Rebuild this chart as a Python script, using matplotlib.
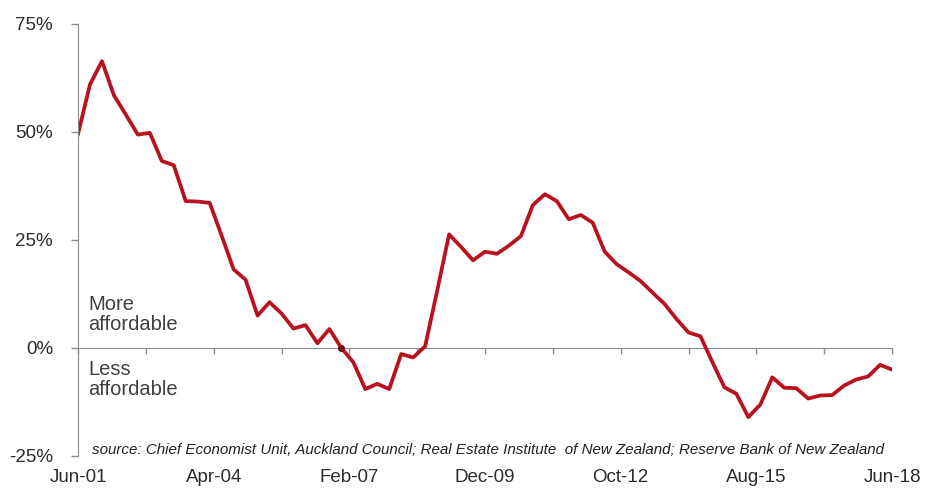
#!/usr/bin/python
# Auckland housing affordability index, quarterly from Jun-01 to Jun-18.
import numpy as np
import matplotlib
matplotlib.use("Agg")
import matplotlib.pyplot as plt

# data (percent, quarterly)
affordability = [49.5, 61.0, 66.4, 58.5, 54.0, 49.4, 49.8, 43.3, 42.3, 34.0,
                 33.9, 33.6, 26.0, 18.2, 15.8, 7.5, 10.6, 8.0, 4.5, 5.3,
                 1.1, 4.4, 0.0, -3.3, -9.5, -8.3, -9.5, -1.4, -2.2, 0.4,
                 13.2, 26.3, 23.4, 20.3, 22.3, 21.8, 23.7, 25.9, 33.1, 35.6,
                 34.0, 29.8, 30.8, 29.0, 22.3, 19.4, 17.5, 15.5, 12.8, 10.2,
                 6.7, 3.6, 2.7, -3.3, -9.1, -10.6, -16.0, -13.1, -6.8, -9.2,
                 -9.3, -11.7, -11.0, -10.9, -8.7, -7.3, -6.6, -3.9, -5.0]
months = np.arange(len(affordability)) * 3          # months since Jun-01
tick_labels = ["Jun-01", "Apr-04", "Feb-07", "Dec-09", "Oct-12", "Aug-15", "Jun-18"]
label_months = np.arange(len(tick_labels)) * 34
minor_months = np.arange(0, 205, 17)
y_ticks = [-25, 0, 25, 50, 75]

plt.rcParams["font.family"] = ["Liberation Sans", "DejaVu Sans"]
axis_grey = "#8c8c8c"
text_grey = "#2b2b2b"

fig = plt.figure(figsize=(9.25, 4.9), dpi=100)
ax = fig.add_axes([78/925, 1 - 456/490, (892 - 78)/925, (456 - 24)/490])

ax.plot(months, affordability, color="#b8121f", lw=2.7, solid_joinstyle="round",
        marker="o", markersize=4, markerfacecolor="#6e0a0a",
        markeredgecolor="#6e0a0a", markevery=[22])

ax.set_xlim(0, 204)
ax.set_ylim(-25, 75)

# y axis
ax.set_yticks(y_ticks)
ax.set_yticklabels(["%d%%" % v for v in y_ticks])
ax.tick_params(axis="y", direction="out", length=5, width=1, color=axis_grey,
               labelsize=13.5, labelcolor=text_grey, pad=13)

# x labels at the bottom, no visible spine
ax.set_xticks(label_months)
ax.set_xticklabels(tick_labels)
ax.tick_params(axis="x", length=0, labelsize=13.5, labelcolor=text_grey, pad=9)

for side in ["top", "right", "bottom"]:
    ax.spines[side].set_visible(False)
ax.spines["left"].set_color(axis_grey)

# zero line with small tick marks
zero_ax = ax.secondary_xaxis(0.25)
zero_ax.set_xticks(minor_months)
zero_ax.tick_params(direction="out", length=4, width=1, color=axis_grey,
                    labelbottom=False)
zero_ax.spines["bottom"].set_color(axis_grey)

# annotations
ax.text(2.5, 3.3, "More\naffordable", fontsize=14.5, color="#404040",
        ha="left", va="bottom", linespacing=1.05)
ax.text(2.5, -2.8, "Less\naffordable", fontsize=14.5, color="#404040",
        ha="left", va="top", linespacing=1.05)
ax.text(3.5, -23.6, "source: Chief Economist Unit, Auckland Council; Real Estate "
        "Institute  of New Zealand; Reserve Bank of New Zealand",
        fontsize=10.9, style="italic", color="#222222", ha="left", va="center")

fig.savefig("out.png", dpi=100)
